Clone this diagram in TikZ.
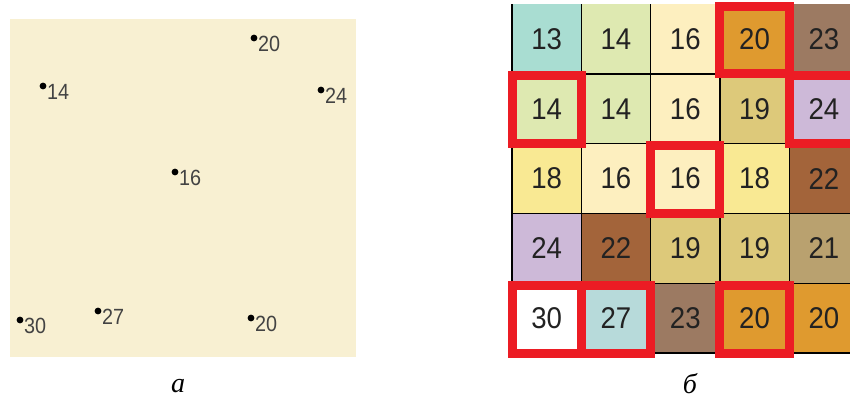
\documentclass[tikz,border=0pt]{standalone}
\usepackage{fontspec}
\setmainfont{Liberation Serif}
\newfontfamily\lblfont{Liberation Sans}
\definecolor{bgpanel}{HTML}{F8F0D2}
\definecolor{cteal}{HTML}{A9DDD2}
\definecolor{clgreen}{HTML}{DEE9B1}
\definecolor{ccream}{HTML}{FDEFBF}
\definecolor{corange}{HTML}{DF9A2F}
\definecolor{cgbrown}{HTML}{9C7A62}
\definecolor{ckhaki}{HTML}{DDC97A}
\definecolor{clav}{HTML}{CDB9D8}
\definecolor{cyellow}{HTML}{F9E993}
\definecolor{cbrown}{HTML}{A3643A}
\definecolor{ctan}{HTML}{B9A16F}
\definecolor{clteal}{HTML}{B7DADA}
\definecolor{cwhite}{HTML}{FFFFFF}
\definecolor{hired}{HTML}{EC1C24}
\definecolor{txt}{HTML}{222222}
\tikzset{
  ptlabel/.style={anchor=west, inner sep=0pt, font=\lblfont\fontsize{22}{22}\selectfont, text=txt!85, xscale=0.9},
  ptdot/.style={fill=black, draw=none},
  celltext/.style={inner sep=0pt, font=\lblfont\fontsize{30}{30}\selectfont, text=txt, xscale=0.92},
  hibox/.style={draw=hired, line width=9pt},
  caption/.style={inner sep=0pt, font=\fontsize{28}{28}\selectfont\itshape}
}
\begin{document}
\begin{tikzpicture}[x=1pt,y=-1pt]
\useasboundingbox (0,0) rectangle (850,399);
% panel a
\fill[bgpanel] (10,19) rectangle (356,357);
\foreach \name/\px/\py/\val in {p1/254/38/20, p2/43/86/14, p3/321/90/24, p4/175/172/16, p5/20/320/30, p6/98/311/27, p7/251/318/20}{
  \fill[ptdot] (\px,\py) circle (3.4);
  \node[ptlabel] (\name) at (\px+4,\py+6) {\val};
}
\node[caption] (capa) at (178,386) {а};
% panel b
\begin{scope}
\clip (500,0) rectangle (850,399);
\foreach \row/\vals in {0/{cteal/13,clgreen/14,ccream/16,corange/20,cgbrown/23},
                        1/{clgreen/14,clgreen/14,ccream/16,ckhaki/19,clav/24},
                        2/{cyellow/18,ccream/16,ccream/16,cyellow/18,cbrown/22},
                        3/{clav/24,cbrown/22,ckhaki/19,ckhaki/19,ctan/21},
                        4/{cwhite/30,clteal/27,cgbrown/23,corange/20,corange/20}}{
  \foreach \col/\val [count=\c from 0] in \vals {
    \pgfmathsetmacro{\xa}{512+69.3*\c}
    \pgfmathsetmacro{\ya}{4+69.8*\row}
    \fill[\col] (\xa,\ya) rectangle (\xa+69.3,\ya+69.8);
    \node[celltext] (cell-\row-\c) at (\xa+34.65,\ya+35) {\val};
  }
}
\foreach \c in {0,...,5}{
  \draw[black, line width=1.4pt] (512+69.3*\c,4) -- (512+69.3*\c,353);
}
\foreach \r in {1,...,5}{
  \draw[black, line width=1.4pt] (512,4+69.8*\r) -- (858.5,4+69.8*\r);
}
\foreach \r/\c in {0/3,1/0,1/4,2/2,4/0,4/1,4/3}{
  \pgfmathsetmacro{\xa}{512+69.3*\c}
  \pgfmathsetmacro{\ya}{4+69.8*\r}
  \draw[hibox] (\xa,\ya+2) rectangle (\xa+69.3,\ya+69.8);
}
\end{scope}
\node[caption] (capb) at (690,384) {б};
\end{tikzpicture}
\end{document}
